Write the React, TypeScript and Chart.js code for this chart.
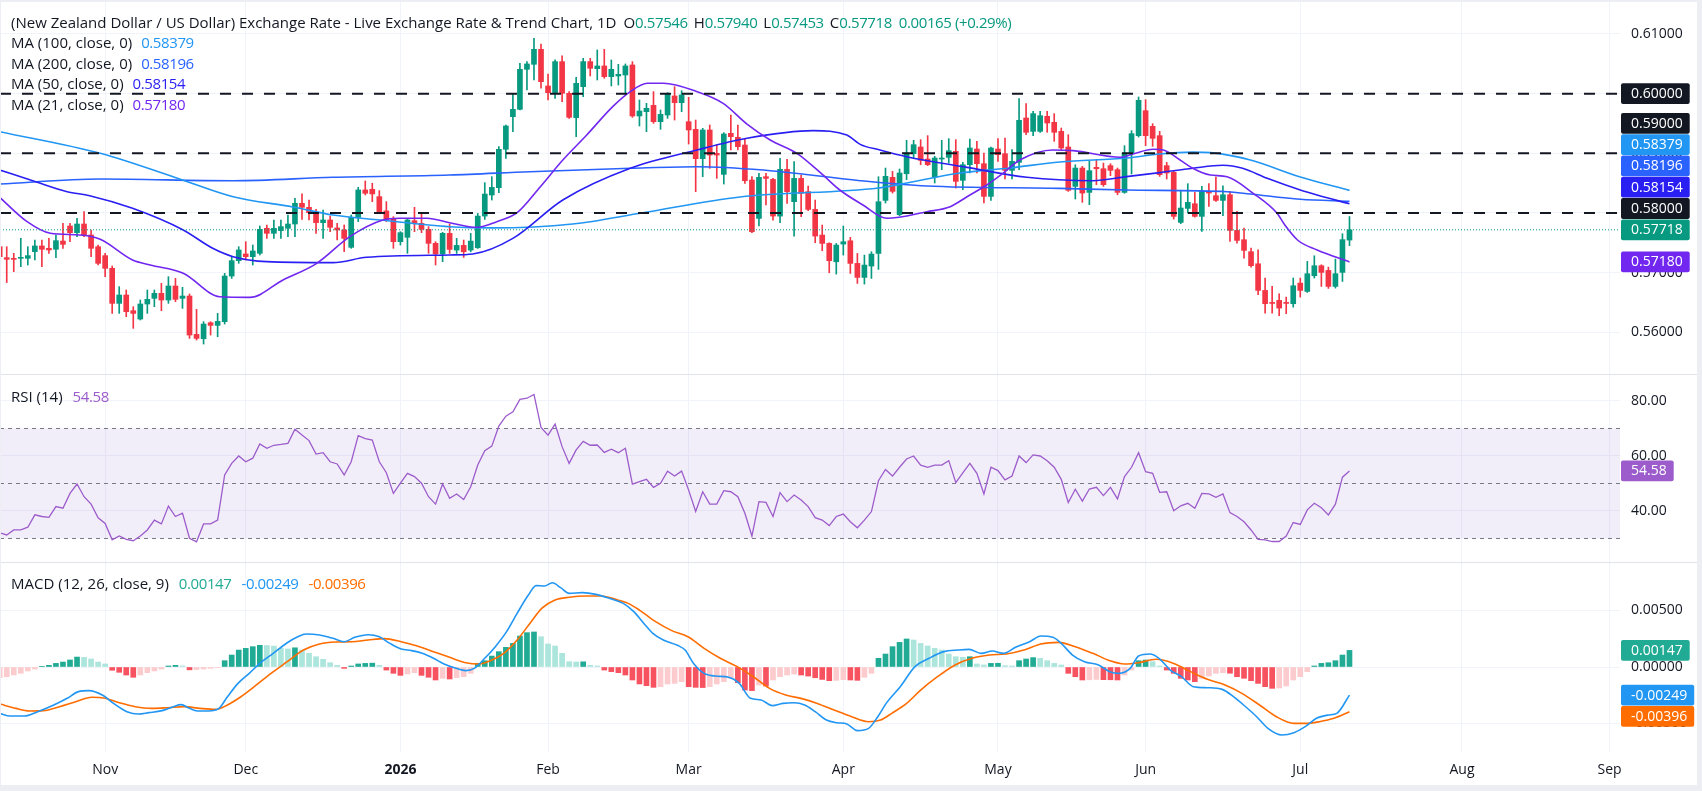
import React, { useEffect, useRef } from 'react';
import { Chart, registerables } from 'chart.js';

Chart.register(...registerables);

const FONT = "'Open Sans', 'Noto Sans', sans-serif";
const TEXT = '#131722';
const GRID = '#f0f3fa';
const FRAME = '#eceef3';
const UP = '#089981';
const DOWN = '#f23645';
const MA100_COLOR = '#2196f3';
const MA200_COLOR = '#2962ff';
const MA50_COLOR = '#2a1ff2';
const MA21_COLOR = '#7127f0';
const RSI_COLOR = '#9c5ccb';
const MACD_COLOR = '#2196f3';
const SIGNAL_COLOR = '#ff6d00';

// page layout (px)
const W = 1702;
const H = 791;
const PLOT_W = 1620;
const SCALE_W = W - PLOT_W;
const MAIN_H = 375;
const RSI_TOP = 375;
const RSI_H = 188;
const MACD_TOP = 563;
const MACD_H = 228;
const TIME_H = 39;

// bar-index range of the visible time axis
const X_MIN = 0.043;
const X_MAX = 230.48;

// month ticks (bar index of first session of each month)
const monthTickIndex = [15, 35, 57, 78, 98, 120, 142, 163, 185, 208, 229];
const monthTickLabels = ['Nov', 'Dec', '2026', 'Feb', 'Mar', 'Apr', 'May', 'Jun', 'Jul', 'Aug', 'Sep'];

const priceTicks = [0.56, 0.57, 0.58, 0.59, 0.6, 0.61];
const rsiTicks = [40, 60, 80];
const macdTicks = [-0.005, 0, 0.005];
const levelLines = [0.6, 0.59, 0.58];

// NZD/USD daily candles, 13 Oct 2025 - 10 Jul 2026
const opens = [
  0.57435, 0.57251, 0.5724, 0.5724, 0.5724, 0.57352, 0.57447, 0.57408, 0.57391, 0.5753,
  0.57782, 0.5767, 0.57815, 0.57631, 0.57435, 0.57285, 0.57072, 0.56485, 0.56625, 0.56362,
  0.56222, 0.56474, 0.56569, 0.56653, 0.56541, 0.56776, 0.56569, 0.56608, 0.55965, 0.55892,
  0.56161, 0.56116, 0.56178, 0.56943, 0.57201, 0.57313, 0.57268, 0.57324, 0.57743, 0.57659,
  0.57704, 0.57743, 0.57815, 0.58162, 0.58095, 0.58006, 0.57838, 0.57883, 0.57749, 0.57715,
  0.57424, 0.57927, 0.58386, 0.58397, 0.58274, 0.58034, 0.57894, 0.57519, 0.57592, 0.57871,
  0.57827, 0.57726, 0.57491, 0.57313, 0.57658, 0.57378, 0.57457, 0.57378, 0.57417, 0.57948,
  0.58301, 0.58424, 0.59067, 0.59614, 0.59737, 0.60408, 0.60492, 0.60743, 0.60129, 0.60017,
  0.60537, 0.60006, 0.59598, 0.60117, 0.60537, 0.60419, 0.60464, 0.60285, 0.60296, 0.60313,
  0.60481, 0.59626, 0.59698, 0.59804, 0.5953, 0.59642, 0.59961, 0.59849, 0.5953, 0.59402,
  0.5891, 0.59391, 0.58999, 0.58647, 0.59335, 0.59268, 0.59139, 0.58552, 0.57909, 0.58608,
  0.58563, 0.57948, 0.58731, 0.58189, 0.5858, 0.58357, 0.5806, 0.5763, 0.5749, 0.57182,
  0.57479, 0.57534, 0.57155, 0.5692, 0.5711, 0.57322, 0.58211, 0.58597, 0.57971, 0.58658,
  0.58994, 0.59106, 0.58904, 0.58603, 0.58904, 0.58932, 0.59033, 0.58547, 0.58809, 0.59072,
  0.58826, 0.58278, 0.59072, 0.58994, 0.58714, 0.58848, 0.59592, 0.59368, 0.59368, 0.5962,
  0.59519, 0.59368, 0.59106, 0.58446, 0.58753, 0.58345, 0.58765, 0.58742, 0.58793, 0.58726,
  0.58345, 0.59005, 0.59296, 0.59715, 0.59452, 0.59296, 0.58793, 0.58681, 0.57842, 0.58077,
  0.58155, 0.57943, 0.58362, 0.5829, 0.58211, 0.58306, 0.57708, 0.57552, 0.57351, 0.57149,
  0.56702, 0.5649, 0.56535, 0.5649, 0.56479, 0.56825, 0.56685, 0.56948, 0.57116, 0.57037,
  0.56769, 0.57004, 0.57546,
];
const highs = [
  0.57491, 0.57435, 0.57324, 0.57575, 0.57435, 0.57547, 0.57547, 0.57575, 0.57631, 0.57827,
  0.57827, 0.57911, 0.58022, 0.57715, 0.57463, 0.57324, 0.57111, 0.56765, 0.56709, 0.56429,
  0.56541, 0.56709, 0.56709, 0.56821, 0.56932, 0.56904, 0.56754, 0.56642, 0.56384, 0.56178,
  0.56178, 0.56317, 0.56988, 0.57268, 0.57435, 0.57519, 0.57463, 0.57782, 0.57799, 0.57883,
  0.57883, 0.57966, 0.58246, 0.58319, 0.58218, 0.58062, 0.5805, 0.5795, 0.57827, 0.57799,
  0.57966, 0.5843, 0.58537, 0.58498, 0.58375, 0.5819, 0.57939, 0.57687, 0.57911, 0.58095,
  0.57994, 0.57771, 0.57519, 0.57676, 0.57814, 0.57574, 0.57546, 0.57658, 0.57993, 0.58508,
  0.58608, 0.59111, 0.59475, 0.59994, 0.60509, 0.60537, 0.60928, 0.60833, 0.6033, 0.60565,
  0.60632, 0.60034, 0.60274, 0.60593, 0.60593, 0.60732, 0.60743, 0.60565, 0.60492, 0.60498,
  0.60537, 0.59894, 0.59838, 0.60034, 0.59726, 0.60017, 0.60117, 0.6005, 0.59939, 0.59558,
  0.59419, 0.59475, 0.59139, 0.59346, 0.59642, 0.59475, 0.59251, 0.58608, 0.58664, 0.58664,
  0.5858, 0.58916, 0.58899, 0.5886, 0.58636, 0.58452, 0.58217, 0.57798, 0.57501, 0.5749,
  0.57781, 0.57591, 0.57322, 0.57294, 0.5735, 0.58608, 0.58753, 0.58697, 0.58737, 0.59218,
  0.59218, 0.59229, 0.59296, 0.58949, 0.59218, 0.59246, 0.59229, 0.58848, 0.5924, 0.59201,
  0.59005, 0.59106, 0.59246, 0.59257, 0.59061, 0.59916, 0.59832, 0.59704, 0.59704, 0.59704,
  0.59665, 0.59424, 0.59312, 0.58809, 0.58781, 0.58865, 0.58893, 0.58837, 0.58826, 0.58753,
  0.59128, 0.5938, 0.59944, 0.59899, 0.59497, 0.59368, 0.58848, 0.58714, 0.58379, 0.58491,
  0.58345, 0.58446, 0.58491, 0.586, 0.58457, 0.58362, 0.58027, 0.57747, 0.57412, 0.57384,
  0.56909, 0.56769, 0.56646, 0.5659, 0.56909, 0.56909, 0.57188, 0.57283, 0.57132, 0.57093,
  0.57227, 0.57652, 0.5794,
];
const lows = [
  0.57212, 0.56834, 0.57016, 0.571, 0.57128, 0.57212, 0.571, 0.57324, 0.57251, 0.57408,
  0.57519, 0.57603, 0.57603, 0.57268, 0.57128, 0.56932, 0.56317, 0.56317, 0.56262, 0.56066,
  0.56206, 0.56317, 0.56429, 0.56362, 0.56485, 0.56513, 0.56401, 0.55898, 0.5587, 0.55803,
  0.55954, 0.55926, 0.56138, 0.56904, 0.57156, 0.57212, 0.57128, 0.57296, 0.57575, 0.57575,
  0.57575, 0.57603, 0.57603, 0.57894, 0.57883, 0.57659, 0.57575, 0.57687, 0.57547, 0.57352,
  0.57408, 0.57855, 0.58302, 0.5819, 0.57994, 0.57855, 0.57408, 0.57463, 0.57324, 0.57687,
  0.5767, 0.57324, 0.57128, 0.57184, 0.57322, 0.57322, 0.57255, 0.5735, 0.57406, 0.57892,
  0.58217, 0.5834, 0.58915, 0.59363, 0.59726, 0.60062, 0.60229, 0.6009, 0.59894, 0.59922,
  0.59866, 0.59586, 0.59279, 0.5995, 0.60296, 0.60229, 0.60257, 0.60129, 0.60145, 0.60006,
  0.59603, 0.59458, 0.59363, 0.59502, 0.59402, 0.59586, 0.59558, 0.59698, 0.59156, 0.58357,
  0.58608, 0.58748, 0.5858, 0.58485, 0.59055, 0.59055, 0.58496, 0.5767, 0.57781, 0.58133,
  0.57881, 0.57837, 0.58161, 0.57613, 0.57937, 0.58038, 0.57501, 0.57367, 0.56998, 0.56976,
  0.57294, 0.56987, 0.56819, 0.56808, 0.56903, 0.57054, 0.58167, 0.58334, 0.57954, 0.58558,
  0.58921, 0.58809, 0.58793, 0.58502, 0.58726, 0.58837, 0.58418, 0.5839, 0.5867, 0.5867,
  0.58167, 0.58211, 0.58865, 0.58569, 0.58569, 0.58726, 0.59313, 0.59296, 0.59352, 0.59352,
  0.59201, 0.59061, 0.58362, 0.58234, 0.58178, 0.58139, 0.58474, 0.58446, 0.58625, 0.58306,
  0.5833, 0.58653, 0.59273, 0.59128, 0.59117, 0.58614, 0.58569, 0.57898, 0.5782, 0.57999,
  0.5793, 0.57691, 0.58111, 0.58194, 0.57954, 0.57524, 0.57496, 0.57244, 0.57093, 0.56629,
  0.56322, 0.56322, 0.56277, 0.56311, 0.56422, 0.5659, 0.56668, 0.56909, 0.56769, 0.56735,
  0.56741, 0.56853, 0.57453,
];
const closes = [
  0.57268, 0.57223, 0.57223, 0.57251, 0.57285, 0.57447, 0.57391, 0.5738, 0.57536, 0.57474,
  0.5767, 0.57815, 0.57631, 0.57408, 0.57156, 0.57072, 0.56485, 0.56625, 0.56345, 0.56317,
  0.56474, 0.56552, 0.56653, 0.56541, 0.56776, 0.56552, 0.56608, 0.55954, 0.55898, 0.56138,
  0.56116, 0.56183, 0.56943, 0.57201, 0.5738, 0.57268, 0.57363, 0.57726, 0.57659, 0.57743,
  0.57771, 0.57815, 0.58162, 0.58095, 0.58006, 0.57838, 0.57883, 0.5776, 0.57715, 0.57575,
  0.57927, 0.58386, 0.5833, 0.58319, 0.58022, 0.57883, 0.57519, 0.5767, 0.57883, 0.57827,
  0.57726, 0.57491, 0.57313, 0.57659, 0.5739, 0.57457, 0.5735, 0.57529, 0.57948, 0.58317,
  0.58429, 0.59067, 0.59458, 0.59737, 0.60408, 0.60498, 0.60743, 0.60201, 0.60017, 0.60537,
  0.60006, 0.59603, 0.60173, 0.60537, 0.60425, 0.60464, 0.60285, 0.60408, 0.60324, 0.60464,
  0.59626, 0.59709, 0.59754, 0.5953, 0.59653, 0.59994, 0.59849, 0.59978, 0.59391, 0.5891,
  0.59391, 0.58971, 0.58971, 0.59324, 0.59279, 0.59111, 0.58541, 0.57686, 0.58597, 0.5858,
  0.57948, 0.58731, 0.58357, 0.5858, 0.58329, 0.5806, 0.57613, 0.5749, 0.572, 0.57462,
  0.57518, 0.57155, 0.5692, 0.57127, 0.57311, 0.58189, 0.58614, 0.58362, 0.5867, 0.59005,
  0.59145, 0.58882, 0.58809, 0.58921, 0.58921, 0.59044, 0.5853, 0.58809, 0.59089, 0.58826,
  0.58278, 0.59089, 0.58977, 0.58714, 0.58865, 0.59553, 0.59352, 0.59665, 0.59631, 0.59508,
  0.59352, 0.59089, 0.58379, 0.58753, 0.58334, 0.58709, 0.58742, 0.58474, 0.58714, 0.58345,
  0.59005, 0.59329, 0.59888, 0.59296, 0.59251, 0.58642, 0.5867, 0.57943, 0.58083, 0.58178,
  0.57943, 0.58362, 0.58334, 0.58211, 0.58306, 0.57708, 0.5754, 0.57373, 0.57116, 0.56702,
  0.56479, 0.56484, 0.56406, 0.56484, 0.5678, 0.56702, 0.56982, 0.57116, 0.57004, 0.56769,
  0.56982, 0.57553, 0.57718,
];

// moving averages, [bar index, value]
const ma100: [number, number][] = [
  [0, 0.59363], [14.3, 0.59], [25.6, 0.5857], [33.2, 0.58273], [41.7, 0.581], [47.4, 0.57966],
  [54.1, 0.57882], [64, 0.5777], [70, 0.5775], [81.5, 0.57815], [91.5, 0.58004], [105.3, 0.58268],
  [125, 0.5842], [128, 0.5848], [136.6, 0.5867], [143.7, 0.58754], [150.8, 0.58855], [160.3, 0.58922],
  [165, 0.58989], [169.7, 0.5902], [172.2, 0.59011], [177.9, 0.58888], [185, 0.58603], [192, 0.58379],
];
const ma200: [number, number][] = [
  [0, 0.58486], [14.3, 0.5857], [33.2, 0.58541], [47.4, 0.58598], [64, 0.58637], [75.4, 0.58692],
  [89.7, 0.58749], [99.2, 0.58776], [108.6, 0.5872], [122.4, 0.58541], [131.9, 0.58452],
  [150.8, 0.58413], [160.3, 0.58385], [174.6, 0.58357], [177.9, 0.58318], [185, 0.58229], [192, 0.58196],
];
const ma50: [number, number][] = [
  [0, 0.5872], [4.7, 0.58541], [9.6, 0.58357], [12.8, 0.5829], [18.9, 0.58078], [26.1, 0.57715],
  [30.3, 0.57408], [33.2, 0.57268], [38, 0.57184], [47.4, 0.57167], [52.2, 0.57257], [64, 0.57296],
  [67.3, 0.57313], [73, 0.57575], [80.1, 0.58218], [89.7, 0.58749], [99.2, 0.59056], [106.3, 0.59252],
  [115.7, 0.5938], [120.5, 0.59307], [122.4, 0.5915], [125.2, 0.59056], [129, 0.58944], [137.6, 0.58765],
  [146.1, 0.58598], [155.5, 0.58541], [160.3, 0.58609], [165, 0.58676], [169.7, 0.58749], [174, 0.58799],
  [176.8, 0.58749], [180.3, 0.58581], [185, 0.58385], [187.4, 0.58301], [192, 0.58154],
];
const ma21: [number, number][] = [
  [0, 0.58262], [3.9, 0.57854], [7.2, 0.57659], [11.4, 0.57631], [14.3, 0.57559], [18.9, 0.57212],
  [21.4, 0.57128], [26.1, 0.56989], [31.3, 0.56597], [35.6, 0.56586], [40.3, 0.56877], [45.1, 0.57156],
  [49.8, 0.57603], [54.5, 0.57882], [56.9, 0.57911], [60.8, 0.57911], [64, 0.57837], [67.9, 0.5776],
  [70.7, 0.57854], [73.6, 0.58004], [76.9, 0.5844], [80.1, 0.58888], [83.5, 0.59307], [87.2, 0.59782],
  [89.7, 0.60033], [92.1, 0.60174], [94.4, 0.60174], [99.2, 0.60033], [102.9, 0.59838], [106.3, 0.59491],
  [109.6, 0.59223], [113.4, 0.59], [117.1, 0.58637], [119.5, 0.58385], [122.8, 0.58134], [126.2, 0.57911],
  [131.9, 0.58022], [135.2, 0.58106], [137.6, 0.58273], [140.4, 0.58469], [142.7, 0.58665],
  [145.1, 0.58888], [149.8, 0.59056], [152.7, 0.59045], [159.4, 0.58933], [161.2, 0.58989],
  [164.1, 0.59067], [165.5, 0.59056], [167.9, 0.58888], [169.7, 0.58749], [172.2, 0.58637],
  [174.6, 0.58608], [178.3, 0.5833], [181.7, 0.57995], [182.8, 0.57798], [184.6, 0.57547],
  [187.4, 0.5738], [192, 0.5718],
];

// RSI(14), one value per bar
const rsi = [
  32.1, 31.3, 33.1, 33.1, 34.1, 38.6, 38.0, 37.7, 41.6, 41.0,
  46.4, 49.8, 45.2, 42.5, 37.5, 35.5, 29.5, 30.9, 29.7, 29.2,
  30.9, 33.1, 36.7, 35.3, 41.8, 38.0, 39.2, 30.1, 28.8, 35.3,
  35.3, 36.7, 53.1, 57.3, 60.0, 57.9, 59.2, 64.4, 62.8, 63.9,
  64.2, 64.6, 69.7, 67.6, 65.6, 60.7, 61.2, 57.9, 57.1, 53.1,
  57.9, 67.4, 66.3, 65.8, 57.9, 53.9, 46.4, 50.1, 53.7, 52.5,
  50.1, 45.2, 42.5, 49.8, 44.6, 46.2, 44.2, 48.8, 56.7, 61.9,
  63.6, 70.9, 74.5, 76.1, 80.6, 81.0, 82.4, 70.4, 67.6, 71.6,
  63.4, 57.3, 62.2, 65.3, 63.9, 64.0, 61.3, 62.5, 61.2, 62.8,
  49.8, 50.7, 51.5, 48.6, 50.1, 54.5, 52.7, 54.5, 47.6, 39.8,
  47.0, 42.5, 42.5, 47.4, 47.0, 45.2, 39.2, 30.9, 43.4, 43.1,
  38.0, 46.7, 43.4, 45.8, 44.0, 41.6, 37.6, 36.7, 34.7, 38.0,
  38.9, 36.1, 33.9, 36.7, 39.8, 51.0, 55.1, 52.7, 55.9, 58.9,
  60.0, 56.7, 55.9, 56.7, 56.7, 58.3, 50.3, 53.9, 57.3, 53.7,
  46.2, 55.9, 54.7, 51.3, 52.7, 60.0, 57.6, 60.4, 60.0, 58.3,
  55.9, 51.5, 43.1, 47.9, 43.6, 48.0, 48.6, 45.6, 48.6, 44.4,
  52.5, 55.9, 61.2, 54.3, 53.7, 46.8, 47.0, 40.1, 41.9, 42.8,
  41.0, 46.4, 46.2, 45.0, 46.2, 39.4, 38.0, 36.1, 33.1, 29.7,
  29.5, 28.9, 28.9, 30.9, 35.8, 35.1, 40.4, 42.8, 41.2, 38.6,
  42.5, 52.3, 54.58,
];

// MACD(12, 26, 9) lines, [bar index, value]
const macdLine: [number, number][] = [
  [0, -0.0041], [1.5, -0.00434], [3.5, -0.00434], [5.4, -0.00395], [7.7, -0.00336], [9.6, -0.00277],
  [11.2, -0.00218], [12.7, -0.00209], [14.6, -0.00248], [16.2, -0.00322], [18.1, -0.00395],
  [19.7, -0.00416], [21.2, -0.00404], [23.1, -0.00386], [24.7, -0.00351], [25.8, -0.00333],
  [27, -0.00366], [28.1, -0.00389], [29.7, -0.00389], [31.2, -0.00366], [32.4, -0.00263],
  [33.9, -0.00145], [35.5, -0.00056], [37, 0.00032], [38.9, 0.00121], [40.9, 0.00215], [42.4, 0.00268],
  [43.6, 0.00292], [45.5, 0.00283], [47.4, 0.00254], [49, 0.00224], [50.5, 0.00263], [52.4, 0.00286],
  [54, 0.00268], [55.5, 0.00209], [57.1, 0.00159], [58.6, 0.00145], [60.1, 0.00121], [61.7, 0.00077],
  [63.2, 0.00027], [64.8, -0.00009], [66.3, -0.00032], [67.5, -0.00012], [69, 0.00077], [70.5, 0.0018],
  [72.1, 0.00313], [73.6, 0.00475], [75.2, 0.00637], [76.3, 0.0072], [77.5, 0.00717], [78.6, 0.00746],
  [79.8, 0.00702], [81, 0.00652], [82.9, 0.00658], [84.8, 0.00643], [86.7, 0.00608], [88.7, 0.00563],
  [90.2, 0.0049], [91.7, 0.00381], [92.9, 0.00298], [94.4, 0.00239], [96.4, 0.00192], [97.5, 0.0015],
  [98.7, 0.00032], [100.2, -0.00056], [101.8, -0.0008], [103.7, -0.00091], [105.2, -0.00145],
  [106.8, -0.00277], [108.3, -0.00292], [109.9, -0.00342], [111.4, -0.00322], [113, -0.00316],
  [114.5, -0.00336], [116, -0.00395], [117.6, -0.00469], [119.1, -0.00493], [120.5, -0.00504],
  [122, -0.00563], [123.6, -0.00543], [124.9, -0.0044], [126.1, -0.00322], [128.1, -0.00174],
  [130.2, 0.00003], [132.2, 0.00077], [134.3, 0.00136], [136.3, 0.0015], [137.9, 0.00156],
  [139.6, 0.00121], [141.2, 0.00142], [142.8, 0.00121], [144.5, 0.00174], [146.5, 0.00224],
  [148.1, 0.00274], [149.8, 0.00263], [151, 0.00209], [152.6, 0.00106], [154.3, 0.00047],
  [156.3, 0.00018], [157.9, -0.00041], [159.2, -0.00056], [160.8, -0.00012], [162, 0.00097],
  [163.6, 0.00115], [164.9, 0.00077], [166.5, -0.00027], [168.1, -0.00086], [169.8, -0.00174],
  [171.8, -0.00183], [173.9, -0.00198], [175.5, -0.00263], [177.1, -0.00345], [178.8, -0.0044],
  [180.4, -0.00543], [182.4, -0.00602], [184.1, -0.00581], [185.7, -0.00528], [187.3, -0.00454],
  [189, -0.00425], [190.2, -0.0041], [192, -0.00249],
];
const signalLine: [number, number][] = [
  [0, -0.00327], [2.3, -0.00366], [4.2, -0.00389], [6.2, -0.00386], [8.5, -0.00351], [10.8, -0.00307],
  [13.1, -0.00268], [15, -0.00277], [17, -0.00316], [19.3, -0.00351], [21.6, -0.00366], [23.9, -0.0036],
  [26.2, -0.00351], [28.5, -0.00366], [30.8, -0.00375], [32.4, -0.00336], [34.3, -0.00263],
  [36.2, -0.00174], [38.6, -0.00056], [40.9, 0.00047], [43.2, 0.0015], [45.5, 0.00204], [47.8, 0.00221],
  [50.1, 0.00224], [52.4, 0.00239], [54.7, 0.00251], [57.1, 0.00224], [59.4, 0.00186], [61.7, 0.00136],
  [64, 0.00086], [66.3, 0.00038], [68.2, 0.00027], [69.8, 0.00056], [71.7, 0.00121], [73.6, 0.00239],
  [75.6, 0.00401], [77.1, 0.00519], [79, 0.00593], [81, 0.00617], [83.3, 0.00628], [85.6, 0.00628],
  [87.9, 0.00593], [89.4, 0.00563], [91, 0.00504], [93.3, 0.00401], [95.6, 0.00322], [97.9, 0.00268],
  [100.2, 0.00165], [102.5, 0.00077], [104.9, 0.00003], [107.2, -0.00086], [109.5, -0.00189],
  [111.8, -0.00248], [114.1, -0.0028], [116.3, -0.00322], [118.7, -0.00381], [121.2, -0.0044],
  [123.6, -0.00484], [125.3, -0.00469], [126.9, -0.0041], [129, -0.00322], [131, -0.00204],
  [133.4, -0.00086], [135.9, 0.00018], [138.3, 0.00077], [140.8, 0.00106], [143.2, 0.00115],
  [145.7, 0.0015], [148.1, 0.00204], [150.6, 0.00218], [153, 0.0018], [155.5, 0.00121], [157.9, 0.00056],
  [160, 0.00027], [162, 0.00038], [164.5, 0.00068], [167, 0.00032], [169.4, -0.00041], [171.8, -0.00109],
  [174.3, -0.00159], [176.7, -0.00233], [179.2, -0.00336], [181.6, -0.0044], [184.1, -0.00499],
  [185.7, -0.00499], [187.7, -0.00484], [189.8, -0.00454], [192, -0.00396],
];
// MACD histogram, one value per bar
const macdHist = [
  -0.00094, -0.00086, -0.00071, -0.00056, -0.00035, -0.00018, 0.00003, 0.00015, 0.00032, 0.00044,
  0.00062, 0.00088, 0.00085, 0.00071, 0.00044, 0.00027, -0.00029, -0.00047, -0.00071, -0.00091,
  -0.00071, -0.0005, -0.00035, -0.00018, 0.00009, 0.00015, 0.00009, -0.00025, -0.00022, -0.00018,
  -0.00012, -0.00006, 0.00056, 0.00106, 0.0015, 0.00165, 0.0018, 0.00192, 0.0019, 0.00185,
  0.00165, 0.0016, 0.0017, 0.0015, 0.00121, 0.00091, 0.00068, 0.00038, 0.00015, -0.00012,
  0.00009, 0.00027, 0.00032, 0.00034, 0.00015, -0.00027, -0.00056, -0.00074, -0.00062, -0.0005,
  -0.00074, -0.00091, -0.00115, -0.001, -0.00106, -0.00094, -0.00086, -0.00056, 0.00032, 0.00056,
  0.00097, 0.00136, 0.00174, 0.00209, 0.00274, 0.00304, 0.0031, 0.00268, 0.00204, 0.00186,
  0.00121, 0.00047, 0.00044, 0.00046, 0.00015, 0.00009, -0.00027, -0.00041, -0.0005, -0.00071,
  -0.00115, -0.0015, -0.00165, -0.0018, -0.00174, -0.0015, -0.00145, -0.0013, -0.00174, -0.0018,
  -0.00182, -0.00174, -0.0015, -0.0013, -0.001, -0.00139, -0.00204, -0.00209, -0.00159, -0.00168,
  -0.00115, -0.00086, -0.00071, -0.00062, -0.00071, -0.0008, -0.00095, -0.0011, -0.00121, -0.00118,
  -0.00112, -0.00115, -0.00118, -0.00091, -0.00056, 0.00077, 0.00115, 0.0018, 0.00218, 0.00248,
  0.00239, 0.00209, 0.00186, 0.00165, 0.0015, 0.00115, 0.00091, 0.00086, 0.00091, 0.00027,
  0.00018, 0.00032, 0.00033, 0.00012, 0.00009, 0.00056, 0.00071, 0.00083, 0.00077, 0.00056,
  0.00032, 0.00018, -0.00056, -0.00086, -0.00115, -0.00113, -0.0011, -0.00112, -0.00113, -0.00115,
  -0.00071, -0.00027, 0.00056, 0.00062, 0.00047, 0.00009, -0.00027, -0.00056, -0.001, -0.00115,
  -0.0013, -0.001, -0.0008, -0.00056, -0.0005, -0.00055, -0.00086, -0.001, -0.00121, -0.00145,
  -0.00174, -0.00189, -0.00186, -0.00168, -0.00115, -0.00086, -0.00041, 0.00009, 0.00032, 0.00038,
  0.00056, 0.00106, 0.00147,
];

const last = closes.length - 1;
const lastOf = (s: [number, number][]) => s[s.length - 1][1];
const fmt5 = (v: number) => v.toFixed(5);

type Tag = { value: number; text: string; bg: string };

// value tags on the right scale, stacked so they never overlap
function tagPlugin(id: string, tags: Tag[], anchor: number) {
  return {
    id,
    afterDraw(chart: any) {
      const scale = chart.scales.y;
      const ctx = chart.ctx as CanvasRenderingContext2D;
      const step = 21.3;
      const desired = tags.map((t) => scale.getPixelForValue(t.value));
      const order = tags.map((_, k) => k).sort((a, b) => desired[a] - desired[b]);
      const pos = order.map((k) => desired[k]);
      const a = order.indexOf(anchor);
      for (let k = a - 1; k >= 0; k--) pos[k] = Math.min(pos[k], pos[k + 1] - step);
      for (let k = a + 1; k < pos.length; k++) pos[k] = Math.max(pos[k], pos[k - 1] + step);
      ctx.save();
      ctx.font = `14px ${FONT}`;
      ctx.textBaseline = 'middle';
      ctx.textAlign = 'left';
      order.forEach((k, j) => {
        const t = tags[k];
        const y = pos[j];
        const w = ctx.measureText(t.text).width + 17;
        ctx.fillStyle = t.bg;
        ctx.beginPath();
        if ((ctx as any).roundRect) (ctx as any).roundRect(PLOT_W + 1, y - 10.4, w, 20.8, 2);
        else ctx.rect(PLOT_W + 1, y - 10.4, w, 20.8);
        ctx.fill();
        ctx.fillStyle = '#ffffff';
        ctx.fillText(t.text, PLOT_W + 11, y + 0.5);
      });
      ctx.restore();
    },
  };
}

const xHidden = {
  type: 'linear' as const,
  min: X_MIN,
  max: X_MAX,
  offset: false,
  afterBuildTicks: (ax: any) => {
    ax.ticks = monthTickIndex.map((v) => ({ value: v }));
  },
  afterFit: (ax: any) => {
    ax.height = 0;
    ax.paddingLeft = 0;
    ax.paddingRight = 0;
  },
  grid: { color: GRID, drawTicks: false, offset: false, lineWidth: 1 },
  border: { display: false },
  ticks: { display: false },
};

function yRight(min: number, max: number, ticks: number[], digits: number) {
  return {
    position: 'right' as const,
    min,
    max,
    afterBuildTicks: (ax: any) => {
      ax.ticks = ticks.map((v) => ({ value: v }));
    },
    afterFit: (ax: any) => {
      ax.width = SCALE_W;
      ax.paddingTop = 0;
      ax.paddingBottom = 0;
    },
    grid: { color: GRID, drawTicks: false },
    border: { display: false },
    ticks: {
      padding: 11,
      color: TEXT,
      font: { size: 14, family: FONT },
      callback: (v: any) => Number(v).toFixed(digits),
    },
  };
}

const baseOptions = {
  responsive: false,
  animation: false as const,
  devicePixelRatio: 1,
  events: [] as any[],
  layout: { padding: 0 },
  plugins: { legend: { display: false }, tooltip: { enabled: false } },
};

const pts = (s: [number, number][]) => s.map(([x, y]) => ({ x, y }));
const flat = (v: number) => [
  { x: X_MIN, y: v },
  { x: X_MAX, y: v },
];

function mainConfig(): any {
  const colors = opens.map((o, i) => (closes[i] >= o ? UP : DOWN));
  const maLine = (s: [number, number][], color: string, order: number) => ({
    type: 'line',
    data: pts(s),
    borderColor: color,
    borderWidth: 1.6,
    pointRadius: 0,
    cubicInterpolationMode: 'monotone',
    order,
  });
  const tags: Tag[] = [
    { value: 0.6, text: fmt5(0.6), bg: TEXT },
    { value: 0.59, text: fmt5(0.59), bg: TEXT },
    { value: lastOf(ma100), text: fmt5(lastOf(ma100)), bg: MA100_COLOR },
    { value: lastOf(ma200), text: fmt5(lastOf(ma200)), bg: MA200_COLOR },
    { value: lastOf(ma50), text: fmt5(lastOf(ma50)), bg: MA50_COLOR },
    { value: 0.58, text: fmt5(0.58), bg: TEXT },
    { value: closes[last], text: fmt5(closes[last]), bg: UP },
    { value: lastOf(ma21), text: fmt5(lastOf(ma21)), bg: MA21_COLOR },
  ];
  return {
    type: 'bar',
    data: {
      datasets: [
        {
          type: 'bar',
          data: opens.map((_, i) => ({ x: i, y: [lows[i], highs[i]] })),
          backgroundColor: colors,
          barThickness: 1,
          grouped: false,
          order: 9,
        },
        {
          type: 'bar',
          data: opens.map((o, i) => ({ x: i, y: [o, closes[i]] })),
          backgroundColor: colors,
          barThickness: 5,
          minBarLength: 1,
          grouped: false,
          order: 8,
        },
        maLine(ma100, MA100_COLOR, 4),
        maLine(ma200, MA200_COLOR, 5),
        maLine(ma50, MA50_COLOR, 3),
        maLine(ma21, MA21_COLOR, 2),
        ...levelLines.map((v) => ({
          type: 'line',
          data: flat(v),
          borderColor: TEXT,
          borderWidth: 2,
          borderDash: [11, 11],
          pointRadius: 0,
          order: 1,
        })),
        {
          type: 'line',
          data: flat(closes[last]),
          borderColor: UP,
          borderWidth: 1,
          borderDash: [1, 2],
          pointRadius: 0,
          order: 0,
        },
      ],
    },
    options: {
      ...baseOptions,
      scales: {
        x: xHidden,
        y: yRight(0.552842, 0.615699, priceTicks, 5),
      },
    },
    plugins: [tagPlugin('priceTags', tags, 6)],
  };
}

function rsiConfig(): any {
  const band = {
    id: 'rsiBand',
    beforeDatasetsDraw(chart: any) {
      const { ctx, chartArea, scales } = chart;
      const y70 = scales.y.getPixelForValue(70);
      const y30 = scales.y.getPixelForValue(30);
      ctx.save();
      ctx.fillStyle = 'rgba(126, 87, 194, 0.1)';
      ctx.fillRect(chartArea.left, y70, chartArea.right - chartArea.left, y30 - y70);
      ctx.strokeStyle = '#787b86';
      ctx.lineWidth = 1;
      ctx.setLineDash([4, 4]);
      [70, 50, 30].forEach((v) => {
        const y = Math.round(scales.y.getPixelForValue(v)) + 0.5;
        ctx.beginPath();
        ctx.moveTo(chartArea.left, y);
        ctx.lineTo(chartArea.right, y);
        ctx.stroke();
      });
      ctx.restore();
    },
  };
  return {
    type: 'line',
    data: {
      datasets: [
        {
          data: rsi.map((v, i) => ({ x: i, y: v })),
          borderColor: RSI_COLOR,
          borderWidth: 1.3,
          pointRadius: 0,
          tension: 0,
        },
      ],
    },
    options: {
      ...baseOptions,
      scales: {
        x: xHidden,
        y: yRight(21.09, 89.45, rsiTicks, 2),
      },
    },
    plugins: [
      band,
      tagPlugin('rsiTags', [{ value: rsi[last], text: rsi[last].toFixed(2), bg: RSI_COLOR }], 0),
    ],
  };
}

function macdConfig(): any {
  const colors = macdHist.map((v, i) => {
    const prev = i > 0 ? macdHist[i - 1] : v;
    if (v >= 0) return v >= prev ? '#22ab94' : '#ace5dc';
    return v < prev ? '#f7525f' : '#fccbcd';
  });
  const tags: Tag[] = [
    { value: macdHist[last], text: fmt5(macdHist[last]), bg: '#22ab94' },
    { value: lastOf(macdLine), text: fmt5(lastOf(macdLine)), bg: MACD_COLOR },
    { value: lastOf(signalLine), text: fmt5(lastOf(signalLine)), bg: SIGNAL_COLOR },
  ];
  return {
    type: 'bar',
    data: {
      datasets: [
        {
          type: 'bar',
          data: macdHist.map((v, i) => ({ x: i, y: v })),
          backgroundColor: colors,
          barThickness: 5,
          grouped: false,
          order: 3,
        },
        {
          type: 'line',
          data: pts(macdLine),
          borderColor: MACD_COLOR,
          borderWidth: 1.6,
          pointRadius: 0,
          cubicInterpolationMode: 'monotone',
          order: 1,
        },
        {
          type: 'line',
          data: pts(signalLine),
          borderColor: SIGNAL_COLOR,
          borderWidth: 1.6,
          pointRadius: 0,
          cubicInterpolationMode: 'monotone',
          order: 2,
        },
      ],
    },
    options: {
      ...baseOptions,
      scales: {
        x: {
          type: 'linear',
          min: X_MIN,
          max: X_MAX,
          offset: false,
          afterBuildTicks: (ax: any) => {
            ax.ticks = monthTickIndex.map((v) => ({ value: v }));
          },
          afterFit: (ax: any) => {
            ax.height = TIME_H;
            ax.paddingLeft = 0;
            ax.paddingRight = 0;
          },
          grid: { color: GRID, drawTicks: false, offset: false },
          border: { display: false },
          ticks: {
            autoSkip: false,
            maxRotation: 0,
            padding: 10,
            color: TEXT,
            font: (c: any) => ({
              size: 14,
              family: FONT,
              weight: monthTickLabels[c.index] === '2026' ? 'bold' : 'normal',
            }),
            callback: (_v: any, i: number) => monthTickLabels[i],
          },
        },
        y: yRight(-0.007522, 0.009204, macdTicks, 5),
      },
    },
    plugins: [tagPlugin('macdTags', tags, 0)],
  };
}

const row = (top: number): React.CSSProperties => ({
  position: 'absolute',
  left: 11,
  top,
  height: 20,
  lineHeight: '20px',
  fontSize: 15,
  color: TEXT,
  whiteSpace: 'nowrap',
  fontFamily: FONT,
});

// numeric legend values run a touch tighter than the labels
const num = (color: string, marginLeft = 0): React.CSSProperties => ({
  color,
  marginLeft,
  letterSpacing: '-0.4px',
});

export default function App() {
  const mainRef = useRef<HTMLCanvasElement>(null);
  const rsiRef = useRef<HTMLCanvasElement>(null);
  const macdRef = useRef<HTMLCanvasElement>(null);

  useEffect(() => {
    const charts = [
      new Chart(mainRef.current as HTMLCanvasElement, mainConfig()),
      new Chart(rsiRef.current as HTMLCanvasElement, rsiConfig()),
      new Chart(macdRef.current as HTMLCanvasElement, macdConfig()),
    ];
    return () => charts.forEach((c) => c.destroy());
  }, []);

  const change = closes[last] - closes[last - 1];
  const pct = (change / closes[last - 1]) * 100;
  const maRows: [string, number, string][] = [
    ['MA (100, close, 0)', lastOf(ma100), MA100_COLOR],
    ['MA (200, close, 0)', lastOf(ma200), MA200_COLOR],
    ['MA (50, close, 0)', lastOf(ma50), MA50_COLOR],
    ['MA (21, close, 0)', lastOf(ma21), MA21_COLOR],
  ];
  const edge = (s: React.CSSProperties): React.CSSProperties => ({
    position: 'absolute',
    background: FRAME,
    ...s,
  });

  return (
    <div
      style={{
        position: 'absolute',
        left: 0,
        top: 0,
        width: W,
        height: H,
        background: '#ffffff',
        overflow: 'hidden',
      }}
    >
      <canvas ref={mainRef} width={W} height={MAIN_H} style={{ position: 'absolute', left: 0, top: 0 }} />
      <canvas ref={rsiRef} width={W} height={RSI_H} style={{ position: 'absolute', left: 0, top: RSI_TOP }} />
      <canvas ref={macdRef} width={W} height={MACD_H} style={{ position: 'absolute', left: 0, top: MACD_TOP }} />

      <div style={{ position: 'absolute', left: 0, top: RSI_TOP - 1, width: W, height: 1, background: '#e0e3eb' }} />
      <div style={{ position: 'absolute', left: 0, top: MACD_TOP - 1, width: W, height: 1, background: '#e0e3eb' }} />

      <div style={edge({ left: 0, top: 0, width: W, height: 2 })} />
      <div style={edge({ left: W - 5, top: 0, width: 5, height: H })} />
      <div style={edge({ left: 0, top: H - 6, width: W, height: 6 })} />
      <div style={edge({ left: 0, top: 0, width: 1, height: H })} />

      <div style={row(11.7)}>
        <span>(New Zealand Dollar / US Dollar) Exchange Rate - Live Exchange Rate &amp; Trend Chart, 1D</span>
        <span style={{ marginLeft: 7 }}>
          O<span style={num(UP)}>{fmt5(opens[last])}</span>
        </span>
        <span style={{ marginLeft: 6 }}>
          H<span style={num(UP)}>{fmt5(highs[last])}</span>
        </span>
        <span style={{ marginLeft: 6 }}>
          L<span style={num(UP)}>{fmt5(lows[last])}</span>
        </span>
        <span style={{ marginLeft: 6 }}>
          C<span style={num(UP)}>{fmt5(closes[last])}</span>
        </span>
        <span style={num(UP, 7)}>
          {fmt5(change)} ({pct >= 0 ? '+' : ''}
          {pct.toFixed(2)}%)
        </span>
      </div>
      {maRows.map(([name, v, c], k) => (
        <div key={name} style={row(31.7 + k * 20.8)}>
          <span>{name}</span>
          <span style={num(c, 9)}>{fmt5(v)}</span>
        </div>
      ))}
      <div style={row(386)}>
        <span>RSI (14)</span>
        <span style={num(RSI_COLOR, 10)}>{rsi[last].toFixed(2)}</span>
      </div>
      <div style={row(573)}>
        <span>MACD (12, 26, close, 9)</span>
        <span style={num('#22ab94', 10)}>{fmt5(macdHist[last])}</span>
        <span style={num(MACD_COLOR, 10)}>{fmt5(lastOf(macdLine))}</span>
        <span style={num(SIGNAL_COLOR, 10)}>{fmt5(lastOf(signalLine))}</span>
      </div>
    </div>
  );
}
